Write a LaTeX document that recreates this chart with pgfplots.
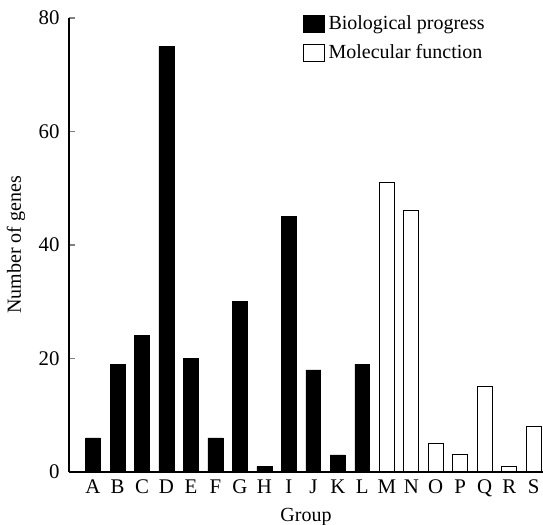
\documentclass[border=0pt]{standalone}
\usepackage{fontspec}
\setmainfont{Liberation Serif}
\usepackage{pgfplots}
\pgfplotsset{compat=1.18}

\begin{document}
\fontsize{12}{14}\selectfont
\begin{tikzpicture}
\begin{axis}[
  scale only axis,
  width=284.4pt, height=272.4pt,
  ybar, bar shift=0pt, bar width=0.61,
  xmin=-0.98, xmax=18.38,
  ymin=0, ymax=80,
  axis x line=bottom, axis y line=left,
  axis line style={-, line width=0.9pt},
  xtick={0,...,18},
  xticklabels={A,B,C,D,E,F,G,H,I,J,K,L,M,N,O,P,Q,R,S},
  x tick style={draw=none},
  x tick label style={anchor=base, yshift=-13.2pt},
  ytick={0,20,40,60,80},
  y tick style={line width=0.9pt},
  y tick label style={xshift=-1.5pt},
  tick align=inside,
  major tick length=3.6pt,
  /pgf/number format/assume math mode=true,
  tick label style={font=\fontsize{12.5}{14}\selectfont},
  xlabel={Group}, ylabel={Number of genes},
  xlabel style={at={(axis description cs:0.5,0)}, anchor=base, yshift=-29.4pt},
  ylabel style={at={(axis description cs:0,0.5)}, anchor=center, yshift=31.8pt},
  label style={font=\fontsize{12}{14}\selectfont},
  legend style={at={(rel axis cs:0.486,1)}, anchor=north west, xshift=-1.3pt, yshift=5.6pt,
    draw=none, fill=none, font=\fontsize{12}{14}\selectfont, row sep=3pt},
  legend cell align=left,
  legend image code/.code={\draw[#1, line width=0.6pt] (-1.5pt,-5pt) rectangle (11.5pt,5pt);},
]
\addplot[fill=black, draw=black] coordinates {
  (0,6) (1,19) (2,24) (3,75) (4,20) (5,6) (6,30) (7,1) (8,45) (9,18) (10,3) (11,19)
};
\addplot[fill=white, draw=black, line width=0.6pt] coordinates {
  (12,51) (13,46) (14,5) (15,3) (16,15) (17,1) (18,8)
};
\legend{Biological progress, Molecular function}
\end{axis}
\pgfresetboundingbox
\path ([shift={(-41.4pt,-31.8pt)}]current axis.south west)
  rectangle ([shift={(0pt,10.8pt)}]current axis.north east);
\end{tikzpicture}
\end{document}
